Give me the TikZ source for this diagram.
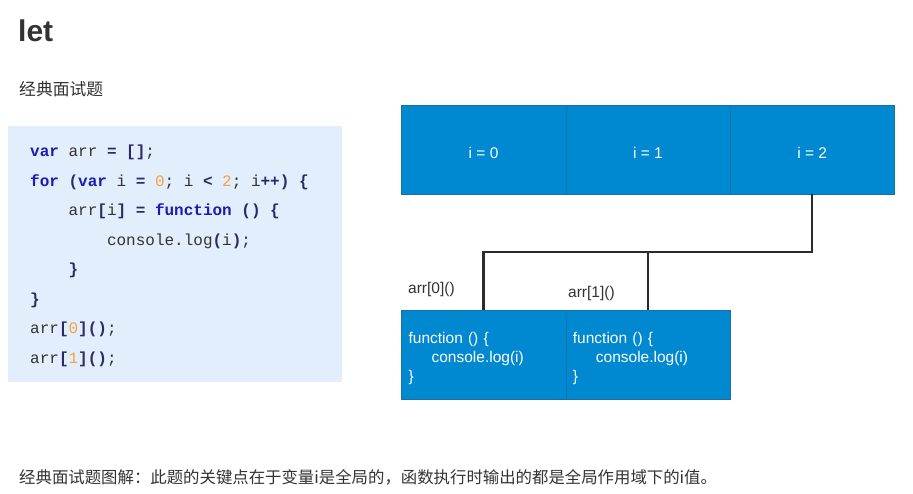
\documentclass[tikz,border=0pt]{standalone}
\usepackage{fontspec}
\setmainfont{Liberation Sans}
\setmonofont{Liberation Mono}
\newfontfamily\cjk{Noto Sans CJK SC}
\usepackage{xcolor}
\usetikzlibrary{positioning}

\definecolor{cellblue}{HTML}{0088D1}
\definecolor{cellline}{HTML}{1570A6}
\definecolor{codebg}{HTML}{E3EEFD}
\definecolor{kwblue}{HTML}{1C1CB0}
\definecolor{punct}{HTML}{2A2A66}
\definecolor{numorange}{HTML}{F4A244}
\definecolor{txtgray}{HTML}{333333}
\definecolor{linkgray}{HTML}{2B2B2B}

\newcommand{\kw}[1]{\textcolor{kwblue}{\bfseries #1}}
\newcommand{\op}[1]{\textcolor{punct}{\bfseries #1}}
\newcommand{\num}[1]{\textcolor{numorange}{#1}}
\newcommand{\ind}{\hspace*{38.4pt}}
\newcommand{\fnbody}{\rule{0pt}{19pt}function () \{\\\hspace*{23pt}console.log(i)\\\}}

\begin{document}
\begin{tikzpicture}[
    x=1pt, y=-1pt,
    cell/.style={rectangle, draw=cellline, fill=cellblue, text=white, minimum width=164.3pt, minimum height=89pt, inner sep=0pt, outer sep=0pt, font=\fontsize{15.5}{19}\selectfont},
    scopebox/.style={cell, text height=19pt},
    fnbox/.style={cell, text width=150pt, align=left},
    link/.style={draw=linkgray, line width=2.5pt},
    call/.style={font=\fontsize{15.5}{19}\selectfont, text=txtgray, inner sep=0pt},
    cjktext/.style={font=\cjk\fontsize{16.8}{20}\selectfont, text=txtgray, inner sep=0pt}
]
    \useasboundingbox (0,0) rectangle (913,494);
    \fill[white] (0,0) rectangle (913,494);

    % headings
    \node[anchor=base west, font=\bfseries\fontsize{30}{32}\selectfont, text=txtgray, inner sep=0pt] (title) at (18,42) {let};
    \node[cjktext, anchor=base west] (sub) at (19,96) {经典面试题};

    % code
    \fill[codebg] (8,126) rectangle (342,382);
    \node[anchor=north west, inner sep=0pt, align=left, text=txtgray, font=\ttfamily\fontsize{16}{29.5}\selectfont] (code) at (30,145) {%
        \kw{var} arr \op{=} \op{[]};\\
        \kw{for} \op{(}\kw{var} i \op{=} \num{0}; i \op{<} \num{2}; i\op{++)} \op{\{}\\
        \ind arr\op{[}i\op{]} \op{=} \kw{function} \op{()} \op{\{}\\
        \ind\ind console.log\op{(}i\op{)};\\
        \ind\op{\}}\\
        \op{\}}\\
        arr\op{[}\num{0}\op{]()};\\
        arr\op{[}\num{1}\op{]()};};

    % scopes of i
    \node[scopebox] (i0) at (483.6,149.5) {i = 0};
    \node[scopebox, right=0pt of i0] (i1) {i = 1};
    \node[scopebox, right=0pt of i1] (i2) {i = 2};

    % closures
    \node[fnbox] (fn0) at (483.6,354.5) {\fnbody};
    \node[fnbox, right=0pt of fn0] (fn1) {\fnbody};

    \node[call, anchor=base west] (call0) at (408,294) {arr[0]()};
    \node[call, anchor=base west] (call1) at (568,298) {arr[1]()};

    \coordinate (bend) at ([yshift=-58pt]i2.south);
    \draw[link] (i2.south) -- (bend) -| (fn0.north);
    \draw[link] (fn1.north) -- (fn1.north |- bend);

    % explanation
    \node[cjktext, font=\cjk\fontsize{16.4}{20}\selectfont, anchor=base west] (note) at (19,483) {经典面试题图解：此题的关键点在于变量i是全局的，函数执行时输出的都是全局作用域下的i值。};
\end{tikzpicture}
\end{document}
